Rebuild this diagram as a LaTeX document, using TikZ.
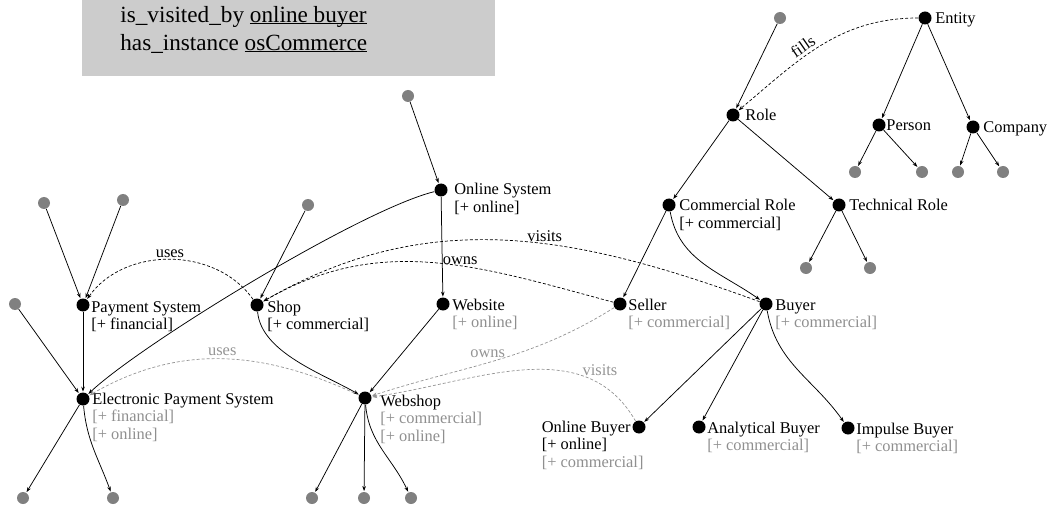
\documentclass[tikz,border=0pt]{standalone}
\usepackage{fontspec}
\setmainfont{Liberation Serif}
\usepackage{tikz}
\usetikzlibrary{arrows.meta,positioning}

\definecolor{leafgrey}{gray}{0.5}
\definecolor{inhgrey}{gray}{0.56}
\definecolor{relgrey}{gray}{0.58}
\definecolor{notegrey}{gray}{0.8}

\newcommand{\owntag}[1]{[+ #1]}
\newcommand{\inhtag}[1]{\textcolor{inhgrey}{[+ #1]}}
\newcommand{\instlink}[1]{\sbox0{#1}\rlap{\rule[-2pt]{\wd0}{1.3pt}}\usebox0}
\newcommand{\taglines}[1]{\begin{tabular}[t]{@{}l@{}}#1\end{tabular}}

\begin{document}
\begin{tikzpicture}[
    x = 1pt, y = 1pt,
    > = {Stealth[length=5pt,width=3.6pt]}, % arrow head style
    shorten > = 0.5pt, % keep the tip off the dot
    line width = 0.75pt,
    font = \fontsize{16.4}{17.5}\selectfont
    ]

    \tikzset{
    concept/.style = {circle, fill=black, inner sep=0pt, minimum size=13pt},
    leaf/.style = {circle, fill=leafgrey, inner sep=0pt, minimum size=12pt},
    tag/.style = {anchor=base west, inner sep=0pt},
    isa/.style = {->},
    rel/.style = {->, dash pattern=on 3pt off 2pt, line width=0.7pt},
    relgrey/.style = {rel, color=relgrey},
    rellbl/.style = {inner sep=2pt},
    notebox/.style = {fill=notegrey, inner sep=0pt, minimum width=413pt,
        minimum height=76pt, anchor=north west}
    }

    \useasboundingbox (0,0) rectangle (1049,-505);

    % note
    \node[notebox] (note) at (82,0) {};
    \node[tag, font=\fontsize{23.2}{28}\selectfont] (notetxt) at (120,-22.5)
        {\taglines{is\_visited\_by \instlink{online buyer}\\has\_instance \instlink{osCommerce}}};

    % concepts
    \node[concept] (ps) at (83,-305) {};
    \node[concept] (shop) at (257,-305) {};
    \node[concept] (os) at (441,-190) {};
    \node[concept] (website) at (443,-304) {};
    \node[concept] (eps) at (83,-399) {};
    \node[concept] (webshop) at (365,-398) {};
    \node[concept] (entity) at (925,-18) {};
    \node[concept] (role) at (733,-115) {};
    \node[concept] (person) at (879,-125) {};
    \node[concept] (company) at (973,-127) {};
    \node[concept] (crole) at (669,-205) {};
    \node[concept] (trole) at (839,-205) {};
    \node[concept] (seller) at (620,-304) {};
    \node[concept] (buyer) at (766,-304) {};
    \node[concept] (obuyer) at (639,-427) {};
    \node[concept] (abuyer) at (699,-427) {};
    \node[concept] (ibuyer) at (848,-428) {};

    % unnamed neighbours
    \node[leaf] (ostop) at (408,-96) {};
    \node[leaf] (shoptop) at (308,-205) {};
    \node[leaf] (psleft) at (44,-203) {};
    \node[leaf] (psright) at (123,-200) {};
    \node[leaf] (epstop) at (15,-304) {};
    \node[leaf] (epsa) at (23,-498) {};
    \node[leaf] (epsb) at (113,-498) {};
    \node[leaf] (wsa) at (312,-498) {};
    \node[leaf] (wsb) at (364,-498) {};
    \node[leaf] (wsc) at (411,-498) {};
    \node[leaf] (roletop) at (780,-18) {};
    \node[leaf] (pa) at (855,-172) {};
    \node[leaf] (pb) at (922,-172) {};
    \node[leaf] (ca) at (958,-172) {};
    \node[leaf] (cb) at (1003,-172) {};
    \node[leaf] (tra) at (806,-268) {};
    \node[leaf] (trb) at (870,-268) {};

    % labels
    \node[tag] (pstag) at ([xshift=8pt,yshift=-7pt]ps.center) {\taglines{Payment System\\\owntag{financial}}};
    \node[tag] (shoptag) at ([xshift=10pt,yshift=-7pt]shop.center) {\taglines{Shop\\\owntag{commercial}}};
    \node[tag] (ostag) at ([xshift=13pt,yshift=-5pt]os.center) {\taglines{Online System\\\owntag{online}}};
    \node[tag] (websitetag) at ([xshift=9pt,yshift=-6pt]website.center) {\taglines{Website\\\inhtag{online}}};
    \node[tag] (epstag) at ([xshift=9pt,yshift=-5pt]eps.center) {\taglines{Electronic Payment System\\\inhtag{financial}\\\inhtag{online}}};
    \node[tag] (webshoptag) at ([xshift=15pt,yshift=-8pt]webshop.center) {\taglines{Webshop\\\inhtag{commercial}\\\inhtag{online}}};
    \node[tag] (entitytag) at ([xshift=10pt,yshift=-6pt]entity.center) {Entity};
    \node[tag] (roletag) at ([xshift=12pt,yshift=-6pt]role.center) {Role};
    \node[tag] (persontag) at ([xshift=7pt,yshift=-6pt]person.center) {Person};
    \node[tag] (companytag) at ([xshift=10pt,yshift=-6pt]company.center) {Company};
    \node[tag] (croletag) at ([xshift=10pt,yshift=-6pt]crole.center) {\taglines{Commercial Role\\\owntag{commercial}}};
    \node[tag] (troletag) at ([xshift=10pt,yshift=-6pt]trole.center) {Technical Role};
    \node[tag] (sellertag) at ([xshift=8pt,yshift=-6pt]seller.center) {\taglines{Seller\\\inhtag{commercial}}};
    \node[tag] (buyertag) at ([xshift=9pt,yshift=-6pt]buyer.center) {\taglines{Buyer\\\inhtag{commercial}}};
    \node[tag, anchor=base east] (obuyertag) at ([xshift=-8pt,yshift=-5pt]obuyer.center) {Online Buyer};
    \node[tag] (obuyerext) at ([yshift=-17.5pt]obuyertag.base west) {\taglines{\owntag{online}\\\inhtag{commercial}}};
    \node[tag] (abuyertag) at ([xshift=8pt,yshift=-6pt]abuyer.center) {\taglines{Analytical Buyer\\\inhtag{commercial}}};
    \node[tag] (ibuyertag) at ([xshift=8pt,yshift=-6pt]ibuyer.center) {\taglines{Impulse Buyer\\\inhtag{commercial}}};

    % subconcept links
    \path[isa] (ostop) edge (os)
        (os) edge (website)
        (shoptop) edge (shop)
        (psleft) edge (ps)
        (psright) edge (ps)
        (ps) edge (eps)
        (epstop) edge (eps)
        (website) edge (webshop)
        (shop) edge[out=-85, in=150, looseness=0.8] (webshop)
        (eps) edge (epsa)
        (eps) edge[out=-85, in=110] (epsb)
        (webshop) edge (wsa)
        (webshop) edge (wsb)
        (webshop) edge[out=-85, in=115] (wsc)
        (roletop) edge (role)
        (entity) edge (person)
        (entity) edge (company)
        (person) edge (pa)
        (person) edge (pb)
        (company) edge (ca)
        (company) edge (cb)
        (role) edge (crole)
        (role) edge (trole)
        (trole) edge (tra)
        (trole) edge (trb)
        (crole) edge (seller)
        (crole) edge[out=-80, in=145] (buyer)
        (buyer) edge (obuyer)
        (buyer) edge (abuyer)
        (buyer) edge[out=-80, in=125] (ibuyer);
    \draw[isa] (os) .. controls (360,-210) and (140,-345) .. (eps);

    % relations
    \draw[rel] (entity) to[out=180, in=40] node[rellbl, sloped, above, pos=0.58, inner sep=3pt] {fills} (role);
    \draw[rel] (shop) to[out=125, in=55] node[rellbl, above] {uses} (ps);
    \draw[rel] (buyer) to[out=160, in=30] node[rellbl, above, pos=0.42] {visits} (shop);
    \draw[rel] (seller) to[out=165, in=30] node[rellbl, above, pos=0.42, inner sep=1pt] {owns} (shop);
    \draw[relgrey] (webshop) to[out=155, in=30] node[rellbl, above, inner sep=3pt] {uses} (eps);
    \draw[relgrey] (seller) to[out=212, in=18] node[rellbl, above, pos=0.54, inner sep=5pt] {owns} (webshop);
    \draw[relgrey] (obuyer) to[out=120, in=8] node[rellbl, above right, pos=0.27, inner sep=0pt] {visits} (webshop);
\end{tikzpicture}
\end{document}
